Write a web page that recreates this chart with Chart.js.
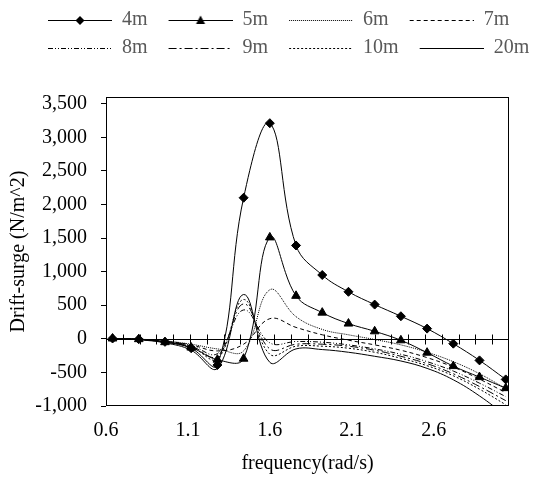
<!DOCTYPE html>
<html>
<head>
<meta charset="utf-8">
<script src="https://cdn.jsdelivr.net/npm/chart.js@4/dist/chart.umd.min.js"></script>
<style>
html,body{margin:0;padding:0;background:#fff;}
#wrap{width:535px;height:478px;}
</style>
</head>
<body>
<div id="wrap"><canvas id="c" width="535" height="478"></canvas></div>
<script>
// ---- data ----
const frequency = [0.64, 0.80, 0.96, 1.12, 1.28, 1.44, 1.60, 1.76, 1.92, 2.08, 2.24, 2.40, 2.56, 2.72, 2.88, 3.04];
const drift4m  = [5, -5, -45, -140, -390, 2100, 3210, 1390, 950, 700, 510, 336, 152, -72, -321, -604];
const drift5m  = [5, -5, -50, -130, -310, -296, 1510, 640, 390, 227, 112, -22, -206, -406, -570, -734];
const drift6m  = [0, -5, -30, -80, -150, -180, 730, 330, 140, 60, -10, -90, -200, -340, -520, -740];
const drift7m  = [0, -8, -35, -90, -180, -80, 300, 170, 60, -20, -90, -170, -280, -420, -600, -800];
const drift8m  = [0, -10, -40, -100, -220, 430, -60, -40, -50, -90, -150, -230, -340, -480, -660, -860];
const drift9m  = [0, -10, -45, -110, -260, 520, -150, -80, -80, -110, -170, -260, -370, -520, -710, -920];
const drift10m = [0, -12, -50, -120, -300, 585, -230, -110, -110, -140, -200, -290, -400, -550, -750, -980];
const drift20m = [0, -15, -60, -170, -440, 660, -350, -150, -160, -200, -260, -330, -440, -610, -850, -1140];
const seriesNames = ['4m', '5m', '6m', '7m', '8m', '9m', '10m', '20m'];
const xTickValues = [0.6, 1.1, 1.6, 2.1, 2.6];
const yTickValues = [-1000, -500, 0, 500, 1000, 1500, 2000, 2500, 3000, 3500];
const xTitle = 'frequency(rad/s)';
const yTitle = 'Drift-surge (N/m^2)';

// ---- styles ----
const FONT = "'Liberation Serif', 'Times New Roman', serif";
Chart.defaults.font.family = FONT;
Chart.defaults.font.size = 20;
Chart.defaults.color = '#000';

const seriesValues = [drift4m, drift5m, drift6m, drift7m, drift8m, drift9m, drift10m, drift20m];
const dashes = [[], [], [1, 1], [4, 3], [5, 2, 1, 2, 1, 2], [8, 3, 2, 3], [2, 2], []];
const markers = ['rectRot', 'triangle', false, false, false, false, false, false];
const markerRadius = [4.5, 5, 0, 0, 0, 0, 0, 0];

const datasets = seriesNames.map((name, s) => ({
  label: name,
  data: frequency.map((f, i) => ({x: f, y: seriesValues[s][i]})),
  borderColor: '#000',
  backgroundColor: '#000',
  borderWidth: 1,
  borderDash: dashes[s],
  tension: 0.4,
  fill: false,
  pointStyle: markers[s] || 'circle',
  pointRadius: markerRadius[s],
  pointHoverRadius: markerRadius[s],
  pointBackgroundColor: '#000',
  pointBorderColor: '#000',
  pointBorderWidth: 1
}));

// legend icon: blank lead + 64px line with optional centred marker
const ICON_LEAD = 13, ICON_LINE = 64, ICON_H = 12;
function legendIcon(ds) {
  const cv = document.createElement('canvas');
  cv.width = ICON_LEAD + ICON_LINE; cv.height = ICON_H;
  const g = cv.getContext('2d');
  g.strokeStyle = '#000'; g.lineWidth = 1;
  g.setLineDash(ds.borderDash || []);
  g.beginPath(); g.moveTo(ICON_LEAD, ICON_H / 2 + 0.5); g.lineTo(ICON_LEAD + ICON_LINE, ICON_H / 2 + 0.5); g.stroke();
  g.setLineDash([]);
  const cx = ICON_LEAD + ICON_LINE / 2, cy = ICON_H / 2 + 0.5;
  g.fillStyle = '#000';
  if (ds.pointStyle === 'rectRot' && ds.pointRadius > 0) {
    const r = ds.pointRadius;
    g.beginPath(); g.moveTo(cx - r, cy); g.lineTo(cx, cy - r); g.lineTo(cx + r, cy); g.lineTo(cx, cy + r); g.closePath(); g.fill();
  } else if (ds.pointStyle === 'triangle' && ds.pointRadius > 0) {
    const r = ds.pointRadius;
    g.beginPath(); g.moveTo(cx, cy - r); g.lineTo(cx + r * 0.9, cy + r * 0.7); g.lineTo(cx - r * 0.9, cy + r * 0.7); g.closePath(); g.fill();
  }
  return cv;
}

// frame, zero line with minor ticks
const frameAndZero = {
  id: 'frameAndZero',
  beforeDatasetsDraw(chart) {
    const {ctx, chartArea: a, scales: {x, y}} = chart;
    ctx.save();
    ctx.strokeStyle = '#000'; ctx.lineWidth = 1;
    const L = Math.round(a.left) + 0.5, R = Math.round(a.right) - 0.5;
    const T = Math.round(a.top) + 0.5, B = Math.round(a.bottom) - 0.5;
    ctx.strokeRect(L, T, R - L, B - T);
    const y0 = Math.round(y.getPixelForValue(0)) + 0.5;
    ctx.beginPath(); ctx.moveTo(L, y0); ctx.lineTo(R, y0); ctx.stroke();
    const n = 24;
    ctx.beginPath();
    for (let k = 0; k <= n; k++) {
      const v = x.min + k * (x.max - x.min) / n;
      const px = Math.round(x.getPixelForValue(v)) + (k === n ? -0.5 : 0.5);
      ctx.moveTo(px, y0 - 5); ctx.lineTo(px, y0 + 5);
    }
    ctx.stroke();
    ctx.restore();
  }
};

const LEGEND_LEFT = 27, LEGEND_RIGHT = 600, LEGEND_MAXW = 600, CHART_TOP = 97, PAD_TOP = 2;
const legendTweak = {
  id: 'legendTweak',
  beforeLayout(chart) {
    const lg = chart.legend;
    if (lg && !lg._tweaked) {
      const orig = lg.fit;
      lg.fit = function () {
        this.maxWidth = LEGEND_MAXW;
        orig.call(this);
        this.height = CHART_TOP - PAD_TOP;
      };
      lg._tweaked = true;
    }
  },
  afterLayout(chart) {
    if (chart.legend) {
      chart.legend.left = LEGEND_LEFT;
      chart.legend.right = LEGEND_RIGHT;
    }
  }
};

new Chart(document.getElementById('c'), {
  type: 'line',
  data: {datasets},
  plugins: [legendTweak, frameAndZero],
  options: {
    responsive: false,
    animation: false,
    devicePixelRatio: 1,
    layout: {padding: {left: 0, right: 26, top: PAD_TOP, bottom: 0}},
    plugins: {
      tooltip: {enabled: false},
      legend: {
        position: 'top',
        align: 'start',
        labels: {
          usePointStyle: true,
          pointStyleWidth: ICON_LEAD + ICON_LINE,
          padding: 8,
          color: '#595959',
          font: {size: 20, family: FONT},
          generateLabels(chart) {
            return chart.data.datasets.map((ds, i) => ({
              text: ds.label,
              pointStyle: legendIcon(ds),
              fontColor: '#595959',
              fillStyle: 'rgba(0,0,0,0)',
              strokeStyle: 'rgba(0,0,0,0)',
              lineWidth: 0,
              hidden: false,
              datasetIndex: i
            }));
          }
        }
      }
    },
    scales: {
      x: {
        type: 'linear',
        min: 0.6,
        max: 3.06,
        afterBuildTicks(scale) { scale.ticks = xTickValues.map(v => ({value: v})); },
        afterFit(scale) { scale.height = 72; },
        grid: {display: false, drawTicks: false},
        border: {display: false},
        ticks: {
          padding: 13,
          color: '#000',
          font: {size: 20, family: FONT},
          maxRotation: 0,
          autoSkip: false,
          callback: v => String(v)
        },
        title: {display: true, text: xTitle, color: '#000', font: {size: 20, family: FONT}, padding: {top: 0, bottom: 2}}
      },
      y: {
        type: 'linear',
        min: -1000,
        max: 3600,
        afterBuildTicks(scale) { scale.ticks = yTickValues.map(v => ({value: v})); },
        afterFit(scale) { scale.width = 106; },
        grid: {display: true, drawOnChartArea: false, drawTicks: true, tickLength: 5, color: '#000', lineWidth: 1},
        border: {display: false},
        ticks: {
          padding: 14,
          color: '#000',
          font: {size: 20, family: FONT},
          autoSkip: false,
          callback: v => v.toLocaleString('en-US')
        },
        title: {display: true, text: yTitle, color: '#000', font: {size: 20, family: FONT}, padding: {top: 7, bottom: 0}}
      }
    }
  }
});
</script>
</body>
</html>
